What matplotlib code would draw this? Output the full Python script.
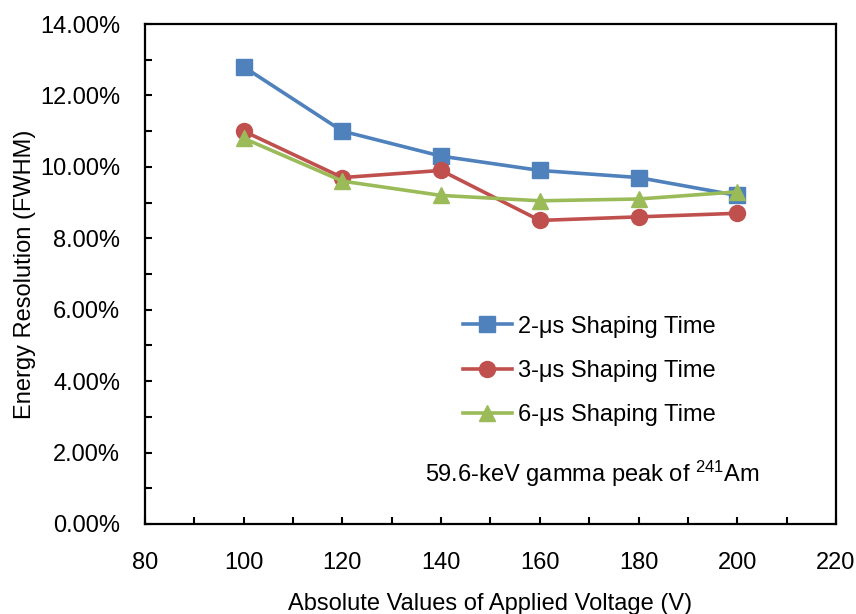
import matplotlib.pyplot as plt
from matplotlib.ticker import MultipleLocator, FuncFormatter

plt.rcParams['font.family'] = ['Liberation Sans', 'DejaVu Sans']
plt.rcParams['mathtext.fontset'] = 'custom'
plt.rcParams['mathtext.rm'] = 'Liberation Sans'

voltage = [100, 120, 140, 160, 180, 200]
res_2us = [12.8, 11.0, 10.3, 9.9, 9.7, 9.2]
res_3us = [11.0, 9.7, 9.9, 8.5, 8.6, 8.7]
res_6us = [10.8, 9.6, 9.2, 9.05, 9.1, 9.3]
labels = ['2-\u03bcs Shaping Time', '3-\u03bcs Shaping Time', '6-\u03bcs Shaping Time']

fig = plt.figure(figsize=(8.56, 6.14), dpi=100)
ax = fig.add_axes([0.1694, 0.1466, 0.8072, 0.8143])

ax.plot(voltage, res_2us, color='#4F81BD', lw=2.6, marker='s', ms=11.5, label=labels[0])
ax.plot(voltage, res_3us, color='#C0504D', lw=2.6, marker='o', ms=11.5, label=labels[1])
ax.plot(voltage, res_6us, color='#9BBB59', lw=2.6, marker='^', ms=11.5, label=labels[2])

ax.set_xlim(80, 220)
ax.set_ylim(0, 14)
ax.xaxis.set_major_locator(MultipleLocator(20))
ax.xaxis.set_minor_locator(MultipleLocator(10))
ax.yaxis.set_major_locator(MultipleLocator(2))
ax.yaxis.set_minor_locator(MultipleLocator(1))
ax.yaxis.set_major_formatter(FuncFormatter(lambda v, p: f'{v:.2f}%'))
ax.tick_params(which='both', direction='in', labelsize=17, width=1.5, length=5)
ax.tick_params(axis='x', pad=20)
ax.tick_params(axis='y', pad=18)
for s in ax.spines.values():
    s.set_linewidth(1.6)

ax.set_xlabel('Absolute Values of Applied Voltage (V)', fontsize=17, labelpad=14)
ax.set_ylabel('Energy Resolution (FWHM)', fontsize=17, labelpad=3)

ax.legend(loc='center left', bbox_to_anchor=(0.429, 0.306), frameon=False, fontsize=17,
          handlelength=2.1, handletextpad=0.25, labelspacing=0.95)
ax.text(0.405, 0.10, '59.6-keV gamma peak of $\\mathregular{^{241}}$Am', transform=ax.transAxes,
        fontsize=17, ha='left', va='center')

fig.savefig('out.png', dpi=100)
